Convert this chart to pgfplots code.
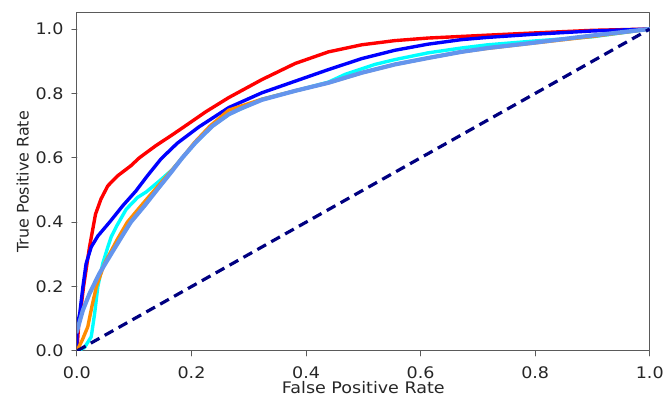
\documentclass[border=0pt]{standalone}
\usepackage{fontspec}
\setmainfont[FakeStretch=1.1]{DejaVu Sans}
\newfontfamily\ylabfont{DejaVu Sans}
\usepackage{pgfplots}
\pgfplotsset{compat=1.18}
\definecolor{aqua}{RGB}{0,255,255}
\definecolor{darkorange}{RGB}{255,140,0}
\definecolor{cornflower}{RGB}{100,149,237}
\definecolor{navyc}{RGB}{0,0,128}
\definecolor{redc}{RGB}{255,0,0}
\definecolor{bluec}{RGB}{0,0,255}
\definecolor{axgray}{RGB}{90,90,90}
\begin{document}
\begin{tikzpicture}
\begin{axis}[
  at={(0,0)}, anchor=south west,
  scale only axis, width=575.7pt, height=339.7pt,
  xmin=0, xmax=1, ymin=0, ymax=1.05,
  xtick={0,0.2,0.4,0.6,0.8,1.0},
  ytick={0,0.2,0.4,0.6,0.8,1.0},
  /pgf/number format/assume math mode=true,
  /pgf/number format/fixed, /pgf/number format/fixed zerofill, /pgf/number format/precision=1,
  tick align=outside, major tick length=5pt,
  xtick pos=bottom, ytick pos=left,
  axis line style={axgray, line width=1pt},
  tick style={axgray, line width=1pt},
  ticklabel style={font=\fontsize{16}{19}\selectfont, text=black!85},
  xticklabel style={yshift=-7pt},
  yticklabel style={xshift=-5pt},
  xlabel={False Positive Rate},
  ylabel={\ylabfont True Positive Rate},
  label style={font=\fontsize{16}{19}\selectfont, text=black!85},
  xlabel style={yshift=4pt},
  ylabel style={yshift=0pt},
  line join=round, line cap=round,
]
\addplot[redc, line width=3.4pt] coordinates {
(0,0) (0.003,0.08) (0.006,0.117) (0.0116,0.2) (0.022,0.323) (0.0325,0.425)
(0.042,0.472) (0.054,0.513) (0.071,0.544) (0.094,0.575) (0.109,0.6) (0.138,0.638)
(0.167,0.672) (0.19,0.700) (0.225,0.743) (0.265,0.787) (0.323,0.843) (0.381,0.893)
(0.439,0.929) (0.497,0.951) (0.555,0.964) (0.613,0.972) (0.671,0.977) (0.717,0.981)
(0.8,0.988) (0.9,0.996) (1,1)};
\addplot[bluec, line width=3.4pt] coordinates {
(0,0) (0,0.075) (0.005,0.117) (0.0105,0.2) (0.016,0.271) (0.025,0.323) (0.0365,0.357)
(0.057,0.4) (0.08,0.451) (0.103,0.497) (0.123,0.544) (0.147,0.597) (0.175,0.645)
(0.213,0.696) (0.265,0.756) (0.323,0.802) (0.381,0.838) (0.439,0.874) (0.497,0.908)
(0.555,0.934) (0.613,0.953) (0.671,0.967) (0.717,0.974) (0.8,0.984) (0.9,0.994) (1,1)};
\addplot[aqua, line width=3.4pt] coordinates {
(0,0) (0.013,0.01) (0.025,0.044) (0.031,0.117) (0.0365,0.2) (0.045,0.271)
(0.054,0.323) (0.06,0.355) (0.07,0.39) (0.086,0.44) (0.106,0.477) (0.121,0.494)
(0.144,0.528) (0.167,0.564) (0.184,0.6) (0.207,0.647) (0.236,0.698) (0.265,0.735)
(0.323,0.782) (0.381,0.808) (0.439,0.835) (0.468,0.859) (0.52,0.89) (0.555,0.905)
(0.613,0.926) (0.671,0.941) (0.717,0.951) (0.8,0.963) (0.9,0.976) (1,1)};
\addplot[darkorange, line width=3.4pt] coordinates {
(0,0) (0.0094,0.034) (0.019,0.075) (0.026,0.137) (0.034,0.2) (0.048,0.271)
(0.07,0.345) (0.088,0.4) (0.112,0.451) (0.137,0.503) (0.162,0.554) (0.184,0.6)
(0.205,0.647) (0.232,0.698) (0.265,0.748) (0.323,0.782) (0.381,0.808) (0.439,0.833)
(0.497,0.864) (0.555,0.89) (0.613,0.91) (0.671,0.929) (0.717,0.940) (0.8,0.957)
(0.9,0.977) (1,1)};
\addplot[cornflower, line width=4.2pt] coordinates {
(0,0.06) (0.003,0.08) (0.0105,0.127) (0.022,0.178) (0.039,0.24) (0.06,0.302)
(0.08,0.36) (0.094,0.4) (0.118,0.451) (0.141,0.503) (0.164,0.554) (0.184,0.6)
(0.207,0.647) (0.236,0.698) (0.265,0.735) (0.285,0.752) (0.323,0.780) (0.381,0.808)
(0.439,0.833) (0.497,0.864) (0.555,0.89) (0.613,0.91) (0.671,0.929) (0.717,0.941)
(0.8,0.958) (0.9,0.980) (1,1)};
\addplot[navyc, line width=3.2pt, line cap=butt, dash pattern=on 10pt off 6pt] coordinates {(0,0) (1,1)};
\end{axis}
\path (-77.3pt,-45.3pt) rectangle (589.7pt,352.7pt);
\end{tikzpicture}
\end{document}
